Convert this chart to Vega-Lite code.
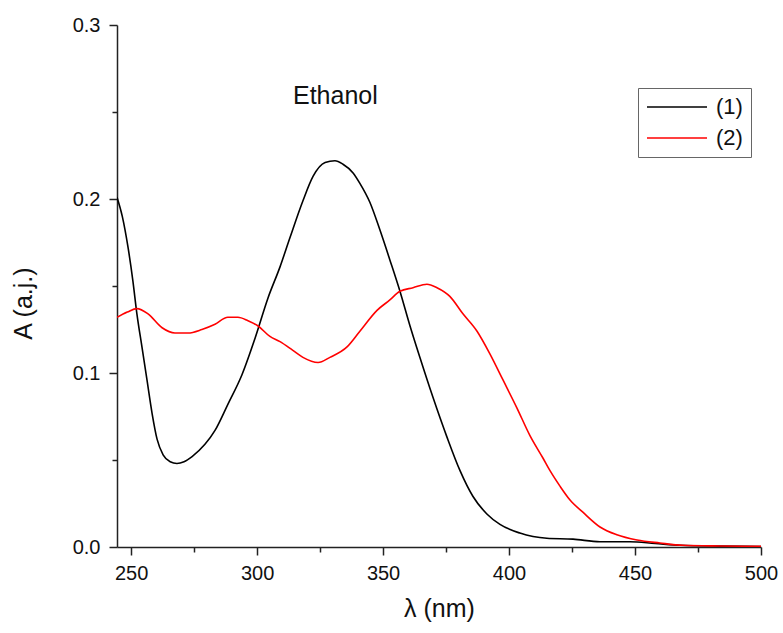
{
  "$schema": "https://vega.github.io/schema/vega-lite/v6.json",
  "width": 644,
  "height": 522,
  "autosize": {"type": "none"},
  "padding": {"left": 117, "top": 25, "right": 22, "bottom": 86},
  "background": "white",
  "title": {"text": "Ethanol", "anchor": "start", "orient": "top", "frame": "group", "dx": 176, "offset": -94, "fontSize": 25, "fontWeight": "normal", "font": "Liberation Sans", "color": "#111111"},
  "config": {"view": {"stroke": null}, "font": "Liberation Sans"},
  "data": {"values": [
    {"nm": 244.4, "A": 0.201, "s": "(1)"},
    {"nm": 246.5, "A": 0.19, "s": "(1)"},
    {"nm": 248.8, "A": 0.172, "s": "(1)"},
    {"nm": 250.7, "A": 0.153, "s": "(1)"},
    {"nm": 252.3, "A": 0.134, "s": "(1)"},
    {"nm": 254.3, "A": 0.115, "s": "(1)"},
    {"nm": 256.3, "A": 0.096, "s": "(1)"},
    {"nm": 258.3, "A": 0.077, "s": "(1)"},
    {"nm": 260.3, "A": 0.062, "s": "(1)"},
    {"nm": 262.7, "A": 0.053, "s": "(1)"},
    {"nm": 265.5, "A": 0.049, "s": "(1)"},
    {"nm": 268.2, "A": 0.048, "s": "(1)"},
    {"nm": 271.0, "A": 0.049, "s": "(1)"},
    {"nm": 274.2, "A": 0.052, "s": "(1)"},
    {"nm": 279.3, "A": 0.059, "s": "(1)"},
    {"nm": 283.3, "A": 0.067, "s": "(1)"},
    {"nm": 288.4, "A": 0.082, "s": "(1)"},
    {"nm": 294.0, "A": 0.099, "s": "(1)"},
    {"nm": 299.2, "A": 0.12, "s": "(1)"},
    {"nm": 304.3, "A": 0.143, "s": "(1)"},
    {"nm": 309.1, "A": 0.161, "s": "(1)"},
    {"nm": 313.1, "A": 0.178, "s": "(1)"},
    {"nm": 318.2, "A": 0.199, "s": "(1)"},
    {"nm": 322.2, "A": 0.213, "s": "(1)"},
    {"nm": 327.0, "A": 0.221, "s": "(1)"},
    {"nm": 330.9, "A": 0.222, "s": "(1)"},
    {"nm": 334.1, "A": 0.22, "s": "(1)"},
    {"nm": 338.1, "A": 0.215, "s": "(1)"},
    {"nm": 340.8, "A": 0.209, "s": "(1)"},
    {"nm": 344.8, "A": 0.198, "s": "(1)"},
    {"nm": 348.8, "A": 0.182, "s": "(1)"},
    {"nm": 352.7, "A": 0.165, "s": "(1)"},
    {"nm": 356.7, "A": 0.147, "s": "(1)"},
    {"nm": 360.7, "A": 0.127, "s": "(1)"},
    {"nm": 364.6, "A": 0.109, "s": "(1)"},
    {"nm": 369.8, "A": 0.086, "s": "(1)"},
    {"nm": 375.4, "A": 0.063, "s": "(1)"},
    {"nm": 380.5, "A": 0.044, "s": "(1)"},
    {"nm": 385.7, "A": 0.029, "s": "(1)"},
    {"nm": 391.2, "A": 0.019, "s": "(1)"},
    {"nm": 396.4, "A": 0.013, "s": "(1)"},
    {"nm": 404.3, "A": 0.008, "s": "(1)"},
    {"nm": 415.0, "A": 0.005, "s": "(1)"},
    {"nm": 425.4, "A": 0.0045, "s": "(1)"},
    {"nm": 436.1, "A": 0.003, "s": "(1)"},
    {"nm": 448.0, "A": 0.003, "s": "(1)"},
    {"nm": 458.0, "A": 0.002, "s": "(1)"},
    {"nm": 467.8, "A": 0.001, "s": "(1)"},
    {"nm": 483.7, "A": 0.0005, "s": "(1)"},
    {"nm": 500.0, "A": 0.0003, "s": "(1)"},
    {"nm": 244.4, "A": 0.132, "s": "(2)"},
    {"nm": 248.5, "A": 0.135, "s": "(2)"},
    {"nm": 252.3, "A": 0.137, "s": "(2)"},
    {"nm": 256.7, "A": 0.134, "s": "(2)"},
    {"nm": 262.3, "A": 0.126, "s": "(2)"},
    {"nm": 267.4, "A": 0.123, "s": "(2)"},
    {"nm": 272.6, "A": 0.123, "s": "(2)"},
    {"nm": 278.1, "A": 0.125, "s": "(2)"},
    {"nm": 283.3, "A": 0.128, "s": "(2)"},
    {"nm": 288.4, "A": 0.132, "s": "(2)"},
    {"nm": 292.4, "A": 0.132, "s": "(2)"},
    {"nm": 296.4, "A": 0.13, "s": "(2)"},
    {"nm": 300.4, "A": 0.127, "s": "(2)"},
    {"nm": 305.1, "A": 0.121, "s": "(2)"},
    {"nm": 309.1, "A": 0.118, "s": "(2)"},
    {"nm": 314.2, "A": 0.113, "s": "(2)"},
    {"nm": 318.2, "A": 0.109, "s": "(2)"},
    {"nm": 324.2, "A": 0.106, "s": "(2)"},
    {"nm": 328.9, "A": 0.109, "s": "(2)"},
    {"nm": 335.7, "A": 0.115, "s": "(2)"},
    {"nm": 340.8, "A": 0.124, "s": "(2)"},
    {"nm": 347.6, "A": 0.136, "s": "(2)"},
    {"nm": 352.7, "A": 0.142, "s": "(2)"},
    {"nm": 356.7, "A": 0.147, "s": "(2)"},
    {"nm": 361.9, "A": 0.149, "s": "(2)"},
    {"nm": 367.4, "A": 0.151, "s": "(2)"},
    {"nm": 371.4, "A": 0.149, "s": "(2)"},
    {"nm": 376.5, "A": 0.144, "s": "(2)"},
    {"nm": 381.7, "A": 0.134, "s": "(2)"},
    {"nm": 387.3, "A": 0.124, "s": "(2)"},
    {"nm": 392.4, "A": 0.111, "s": "(2)"},
    {"nm": 397.6, "A": 0.096, "s": "(2)"},
    {"nm": 403.1, "A": 0.08, "s": "(2)"},
    {"nm": 408.3, "A": 0.064, "s": "(2)"},
    {"nm": 413.5, "A": 0.051, "s": "(2)"},
    {"nm": 416.2, "A": 0.044, "s": "(2)"},
    {"nm": 420.2, "A": 0.035, "s": "(2)"},
    {"nm": 424.2, "A": 0.027, "s": "(2)"},
    {"nm": 429.3, "A": 0.02, "s": "(2)"},
    {"nm": 436.1, "A": 0.0115, "s": "(2)"},
    {"nm": 442.8, "A": 0.007, "s": "(2)"},
    {"nm": 450.8, "A": 0.004, "s": "(2)"},
    {"nm": 459.9, "A": 0.0023, "s": "(2)"},
    {"nm": 469.0, "A": 0.001, "s": "(2)"},
    {"nm": 483.7, "A": 0.0006, "s": "(2)"},
    {"nm": 500.0, "A": 0.0004, "s": "(2)"}
  ]},
  "mark": {"type": "line", "strokeWidth": 1.6, "clip": true, "interpolate": "monotone"},
  "encoding": {
    "x": {
      "field": "nm", "type": "quantitative",
      "scale": {"domain": [244.4, 500], "nice": false, "zero": false},
      "axis": {
        "title": "λ (nm)",
        "values": [250, 275, 300, 325, 350, 375, 400, 425, 450, 475, 500],
        "labelExpr": "datum.value % 50 === 0 ? datum.label : ''",
        "grid": false,
        "domainColor": "#222222", "domainWidth": 1.5,
        "tickColor": "#222222", "tickWidth": 1.5,
        "tickSize": {"condition": {"test": "datum.value % 50 === 0", "value": 8}, "value": 5},
        "labelPadding": 8,
        "labelFontSize": 20, "labelColor": "#111111", "labelFont": "Liberation Sans",
        "labelFlush": false, "labelOverlap": false,
        "titleFontSize": 25, "titleFontWeight": "normal", "titleColor": "#111111", "titleFont": "Liberation Sans",
        "titlePadding": 13
      }
    },
    "y": {
      "field": "A", "type": "quantitative",
      "scale": {"domain": [0, 0.3], "nice": false},
      "axis": {
        "title": "A (a.j.)",
        "values": [0, 0.05, 0.1, 0.15, 0.2, 0.25, 0.3],
        "labelExpr": "abs(datum.value * 10 - round(datum.value * 10)) < 0.001 ? format(datum.value, '.1f') : ''",
        "grid": false,
        "domainColor": "#222222", "domainWidth": 1.5,
        "tickColor": "#222222", "tickWidth": 1.5,
        "tickSize": {"condition": {"test": "abs(datum.value * 10 - round(datum.value * 10)) < 0.001", "value": 8}, "value": 5},
        "labelPadding": 9,
        "labelFontSize": 20, "labelColor": "#111111", "labelFont": "Liberation Sans",
        "labelFlush": false, "labelOverlap": false,
        "titleFontSize": 25, "titleFontWeight": "normal", "titleColor": "#111111", "titleFont": "Liberation Sans",
        "titlePadding": 36,
        "titleY": 278
      }
    },
    "color": {
      "field": "s", "type": "nominal",
      "scale": {"domain": ["(1)", "(2)"], "range": ["#000000", "#ff0000"]},
      "legend": {
        "title": null,
        "orient": "none", "legendX": 521, "legendY": 63,
        "strokeColor": "#666666", "fillColor": "white",
        "padding": 8,
        "symbolType": "M-1,0H5", "symbolSize": 400, "symbolStrokeWidth": 1.6,
        "rowPadding": 9,
        "labelFontSize": 22, "labelFont": "Liberation Sans", "labelColor": "#111111",
        "labelOffset": 48
      }
    }
  }
}
